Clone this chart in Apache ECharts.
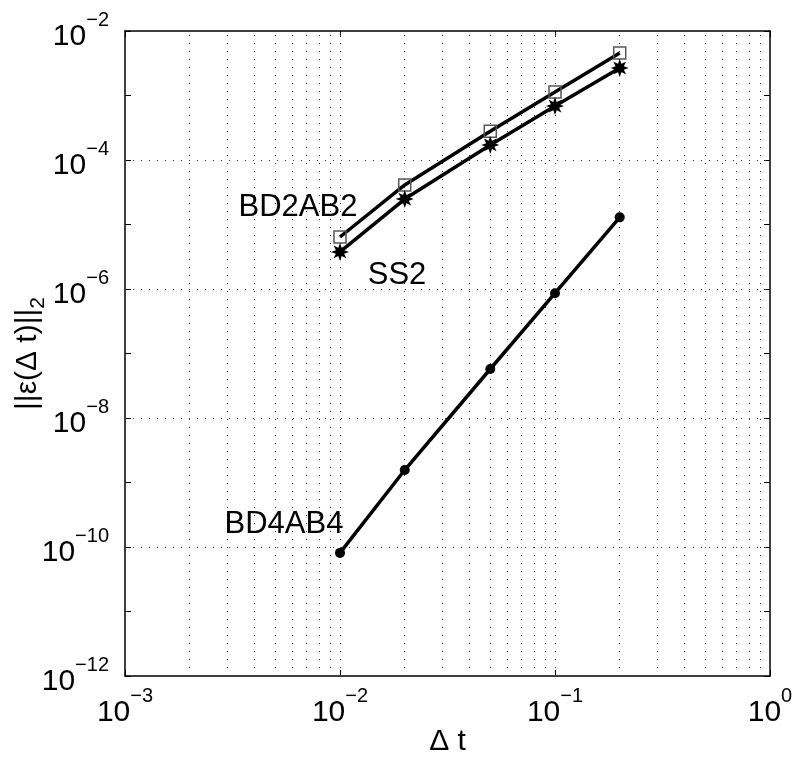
<!DOCTYPE html>
<html>
<head>
<meta charset="utf-8">
<script src="https://cdn.jsdelivr.net/npm/echarts@6/dist/echarts.min.js"></script>
<style>
  html, body { margin: 0; padding: 0; background: #fff; }
  #chart { width: 797px; height: 758px; }
</style>
</head>
<body>
<div id="chart"></div>
<script>
// step sizes (x) and errors for each scheme
const dtValues = [0.01, 0.02, 0.05, 0.1, 0.2]
const bd2ab2 = [6.4e-6, 4.1e-5, 2.8e-4, 1.13e-3, 4.56e-3]
const ss2 = [3.75e-6, 2.48e-5, 1.71e-4, 6.87e-4, 2.67e-3]
const bd4ab4 = [8.1e-11, 1.56e-9, 5.75e-8, 8.6e-7, 1.29e-5]

// axis ranges and grid lines
const xRange = [1e-3, 1]
const yRange = [1e-12, 1e-2]
const yGridValues = [1e-10, 1e-8, 1e-6, 1e-4]
const xGridValues = [
  0.002, 0.003, 0.004, 0.005, 0.006, 0.007, 0.008, 0.009, 0.01,
  0.02, 0.03, 0.04, 0.05, 0.06, 0.07, 0.08, 0.09, 0.1,
  0.2, 0.3, 0.4, 0.5, 0.6, 0.7, 0.8, 0.9
]
const yLabelExps = [-12, -10, -8, -6, -4, -2]

const FONT = "'Liberation Sans', Arial, Helvetica, sans-serif"

const powRich = {
  b: { fontSize: 30, lineHeight: 42, verticalAlign: 'bottom', fontFamily: FONT, color: '#000' },
  e: { fontSize: 20, lineHeight: 20, verticalAlign: 'top', fontFamily: FONT, color: '#000' }
}
function powLabel (v) {
  const e = Math.round(Math.log10(v))
  const s = e < 0 ? '\u2212' + (-e) : String(e)
  return '{b|10}{e|' + s + '}'
}

// asterisk-like 8-point star
const starPath = 'path://M20,10L14.6,11.9L17.07,17.07L11.9,14.6L10,20L8.1,14.6L2.93,17.07L5.4,11.9L0,10L5.4,8.1L2.93,2.93L8.1,5.4L10,0L11.9,5.4L17.07,2.93L14.6,8.1Z'

function pts (ys, labelOpt) {
  return dtValues.map((x, i) => {
    const d = { value: [x, ys[i]] }
    if (i === 0 && labelOpt) d.label = labelOpt
    return d
  })
}
function nameLabel (text, dx, dy) {
  return {
    show: true, formatter: text, position: 'inside', offset: [dx, dy],
    align: 'center', verticalAlign: 'middle',
    fontSize: 31, fontFamily: FONT, color: '#000'
  }
}

const gridSegs = xGridValues.map(x => ({ coords: [[x, yRange[0]], [x, yRange[1]]] }))
  .concat(yGridValues.map(y => ({ coords: [[xRange[0], y], [xRange[1], y]] })))

const xBase = {
  type: 'log', logBase: 10, min: xRange[0], max: xRange[1], interval: 1,
  axisLine: { show: true, onZero: false, lineStyle: { color: '#000', width: 1.5 } },
  axisTick: { show: true, inside: true, length: 6, lineStyle: { color: '#000' } },
  splitLine: { show: false }
}
const yBase = {
  type: 'log', logBase: 10, min: yRange[0], max: yRange[1], interval: 1,
  axisLine: { show: true, onZero: false, lineStyle: { color: '#000', width: 1.5 } },
  axisTick: { show: true, inside: true, length: 6, lineStyle: { color: '#000' } },
  splitLine: { show: false }
}

const ec = echarts.init(document.getElementById('chart'))
ec.setOption({
  animation: false,
  backgroundColor: '#fff',
  grid: { left: 125, top: 31, right: 27, bottom: 82, containLabel: false, outerBoundsMode: 'none' },
  xAxis: [
    Object.assign({}, xBase, {
      position: 'bottom',
      name: '\u0394 t', nameLocation: 'middle', nameGap: 51, nameMoveOverlap: false,
      nameTextStyle: { fontSize: 30, fontFamily: FONT, color: '#000' },
      axisLabel: { margin: 10, formatter: powLabel, rich: powRich }
    }),
    Object.assign({}, xBase, { position: 'top', axisLabel: { show: false } })
  ],
  yAxis: [
    Object.assign({}, yBase, {
      position: 'left',
      name: '{n|||\u03b5(\u0394 t)||}{s|2}', nameLocation: 'middle', nameGap: 76, nameRotate: 90,
      nameMoveOverlap: false,
      nameTextStyle: {
        rich: {
          n: { fontSize: 30, lineHeight: 36, verticalAlign: 'top', fontFamily: FONT, color: '#000' },
          s: { fontSize: 21, lineHeight: 21, verticalAlign: 'bottom', fontFamily: FONT, color: '#000' }
        }
      },
      axisLabel: {
        margin: 16,
        formatter: v => {
          const e = Math.round(Math.log10(v))
          return yLabelExps.indexOf(e) >= 0 ? powLabel(v) : ''
        },
        rich: powRich
      }
    }),
    Object.assign({}, yBase, { position: 'right', axisLabel: { show: false } })
  ],
  series: [
    {
      name: 'grid', type: 'lines', coordinateSystem: 'cartesian2d', z: 1, silent: true,
      polyline: false, symbol: ['none', 'none'],
      lineStyle: { color: '#333', width: 1, type: [1, 7], opacity: 1 },
      data: gridSegs
    },
    {
      name: 'BD2AB2', type: 'line', z: 3,
      data: pts(bd2ab2, nameLabel('BD2AB2', -42, -30)),
      symbol: 'rect', symbolSize: 12,
      lineStyle: { color: '#000', width: 3.5 },
      itemStyle: { color: 'rgba(255,255,255,0)', borderColor: '#555', borderWidth: 1.5 }
    },
    {
      name: 'SS2', type: 'line', z: 4,
      data: pts(ss2, nameLabel('SS2', 57, 23)),
      symbol: starPath, symbolSize: 18,
      lineStyle: { color: '#000', width: 3.5 },
      itemStyle: { color: '#000' }
    },
    {
      name: 'BD4AB4', type: 'line', z: 3,
      data: pts(bd4ab4, nameLabel('BD4AB4', -56, -28)),
      symbol: 'circle', symbolSize: 10,
      lineStyle: { color: '#000', width: 3.5 },
      itemStyle: { color: '#000' }
    }
  ]
})
</script>
</body>
</html>
